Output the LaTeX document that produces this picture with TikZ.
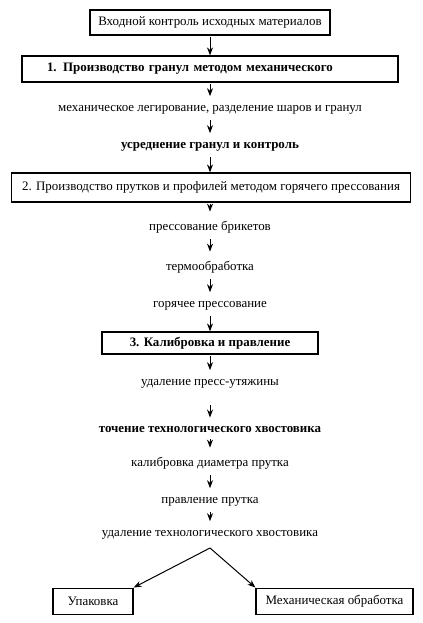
\documentclass[tikz,border=0pt]{standalone}
\usepackage{fontspec}
\setmainfont{Liberation Serif}
\usetikzlibrary{arrows.meta}

\begin{document}
\begin{tikzpicture}[x=0.75pt, y=-0.75pt,
  every node/.style={font=\fontsize{9.7}{12}\selectfont},
  strong/.style={font=\fontsize{9.7}{12}\selectfont\bfseries},
  box/.style={draw, line width=0.9pt},
  flow/.style={-{Stealth[length=6pt,width=4.5pt]}, line width=0.75pt, shorten <=1pt, shorten >=3.5pt}]
  \useasboundingbox (0,0) rectangle (423,623);
  % Input control
  \node[box, minimum width=180pt, minimum height=18.75pt] (inp) at (210,22.5) {Входной контроль исходных материалов};
  % Stage 1: granules
  \node[box, strong, text width=244.5pt, align=left, inner xsep=18.75pt, minimum height=19.5pt] (gran) at (210,69) {1. Производство гранул методом механического};
  \node (alloy) at (210,110) {механическое легирование, разделение шаров и гранул};
  \node[strong] (avg) at (210,147) {усреднение гранул и контроль};
  % Stage 2: rods and profiles
  \node[box, minimum width=299pt, minimum height=21.75pt, inner xsep=2pt] (rods) at (211,187.5) {2. Производство прутков и профилей методом горячего прессования};
  \node (briq) at (210,227) {прессование брикетов};
  \node (heat) at (210,267) {термообработка};
  \node (hotp) at (210,306) {горячее прессование};
  % Stage 3: calibration and straightening
  \node[box, strong, minimum width=162pt, minimum height=16.5pt] (calib) at (210,343) {3. Калибровка и правление};
  \node (discard) at (210,384) {удаление пресс-утяжины};
  \node[strong] (turn) at (210,430) {точение технологического хвостовика};
  \node (diam) at (210,463) {калибровка диаметра прутка};
  \node (straight) at (210,502) {правление прутка};
  \node (tail) at (210,535) {удаление технологического хвостовика};
  % Final branches
  \coordinate (split) at (210,548);
  \node[box, minimum width=60pt, minimum height=20pt] (pack) at (93,601.5) {Упаковка};
  \node[box, minimum width=117.75pt, minimum height=20pt] (machining) at (334.5,601.5) {Механическая обработка};
  % Arrows
  \foreach \a/\b in {inp/gran, avg/rods, hotp/calib} {
    \draw[flow, shorten >=0pt] (\a) -- (\a |- \b.north);
  }
  \foreach \a/\b in {gran/alloy, alloy/avg, briq/heat, heat/hotp,
                     calib/discard, turn/diam, diam/straight, straight/tail} {
    \draw[flow] (\a) -- (\b);
  }
  \draw[flow] (rods.south -| briq) -- (briq);
  \draw[flow, shorten <=9pt] (discard) -- (turn);
  \draw[flow, shorten <=0pt, shorten >=0pt] (split) -- (pack.north east);
  \draw[flow, shorten <=0pt, shorten >=0pt] (split) -- (machining.north west);
\end{tikzpicture}
\end{document}
